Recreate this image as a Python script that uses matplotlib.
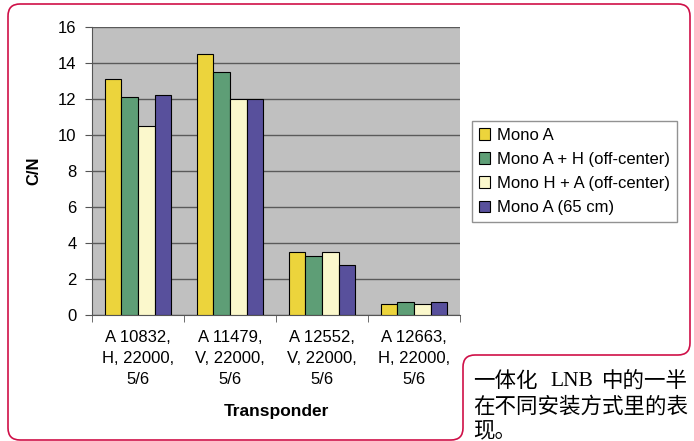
import numpy as np
import matplotlib.pyplot as plt
from matplotlib.path import Path
from matplotlib.patches import PathPatch

plt.rcParams['font.family'] = ['Liberation Sans', 'DejaVu Sans']

# Data
transponders = ["A 10832,\nH, 22000,\n5/6", "A 11479,\nV, 22000,\n5/6",
                "A 12552,\nV, 22000,\n5/6", "A 12663,\nH, 22000,\n5/6"]
series_names = ["Mono A", "Mono A + H (off-center)",
                "Mono H + A (off-center)", "Mono A (65 cm)"]
mono_a = [13.1, 14.5, 3.5, 0.6]
mono_ah = [12.1, 13.5, 3.3, 0.7]
mono_ha = [10.5, 12.0, 3.5, 0.6]
mono_a65 = [12.2, 12.0, 2.8, 0.7]
colors = ["#ecd43c", "#5e9e76", "#fbf8cc", "#58509c"]

caption_lines = ["在不同安装方式里的表", "现。"]

fig = plt.figure(figsize=(6.94, 4.41), dpi=100)
ax = fig.add_axes([92/694, 1 - 315/441, 368/694, 288/441])
ax.set_facecolor("#c0c0c0")

x = np.arange(len(transponders))
w = 0.182
all_series = [mono_a, mono_ah, mono_ha, mono_a65]
for i, vals in enumerate(all_series):
    ax.bar(x + (i - 1.5) * w, vals, w, color=colors[i], edgecolor="black",
           linewidth=0.8, label=series_names[i], zorder=3)

ax.set_xlim(-0.5, len(transponders) - 0.5)
ax.set_ylim(0, 16)
ax.set_yticks(range(0, 17, 2))
ax.yaxis.grid(True, color="#5a5a5a", linewidth=1, zorder=0)
ax.set_axisbelow(True)

ax.set_xticks(x)
ax.set_xticklabels(transponders, fontsize=12, linespacing=1.5)
ax.set_xticks(np.arange(-0.5, len(transponders)), minor=True)
ax.tick_params(axis="x", which="major", length=0, pad=11)
ax.tick_params(axis="x", which="minor", length=5, color="#555555")
ax.tick_params(axis="y", labelsize=12, length=5, color="#555555", pad=6)

for s in ["top", "right"]:
    ax.spines[s].set_visible(False)
for s in ["left", "bottom"]:
    ax.spines[s].set_color("#555555")

ax.set_ylabel("C/N", fontsize=12, fontweight="bold", labelpad=12)
ax.set_xlabel("Transponder", fontsize=12.5, fontweight="bold", labelpad=12)

leg = ax.legend(loc="upper left", bbox_to_anchor=(472/694, 1 - 121/441),
                bbox_transform=fig.transFigure, borderaxespad=0,
                fontsize=12, frameon=True, fancybox=False, edgecolor="#777777",
                handlelength=0.7, handleheight=0.7, handletextpad=0.4,
                labelspacing=0.55, borderpad=0.4)
leg.get_frame().set_linewidth(1.0)

# Decorative page frame with caption notch
ov = fig.add_axes([0, 0, 1, 1], facecolor="none")
ov.set_xlim(0, 694)
ov.set_ylim(441, 0)
ov.axis("off")
verts = [(8, 16), (8, 4), (20, 4), (678, 4), (690, 4), (690, 16),
         (690, 343), (690, 355), (678, 355), (475, 355), (463, 355), (463, 367),
         (463, 428), (463, 440), (451, 440), (20, 440), (8, 440), (8, 428),
         (8, 16)]
codes = [Path.MOVETO, Path.CURVE3, Path.CURVE3, Path.LINETO, Path.CURVE3, Path.CURVE3,
         Path.LINETO, Path.CURVE3, Path.CURVE3, Path.LINETO, Path.CURVE3, Path.CURVE3,
         Path.LINETO, Path.CURVE3, Path.CURVE3, Path.LINETO, Path.CURVE3, Path.CURVE3,
         Path.LINETO]
ov.add_patch(PathPatch(Path(verts, codes), facecolor="none", edgecolor="#cf1048",
                       linewidth=1.2))

cjk = ['Noto Sans CJK SC', 'DejaVu Sans']
ov.text(473, 381, "一体化", fontsize=15.5, family=cjk, va="center", ha="left")
ov.text(572, 381, "LNB", fontsize=15.5, family=['Liberation Serif'], va="center", ha="center")
ov.text(688, 381, "中的一半", fontsize=15.5, family=cjk, va="center", ha="right")
ov.text(473, 407, caption_lines[0], fontsize=15.5, family=cjk, va="center", ha="left")
ov.text(473, 431, caption_lines[1], fontsize=15.5, family=cjk, va="center", ha="left")

fig.savefig("out.png", dpi=100)
